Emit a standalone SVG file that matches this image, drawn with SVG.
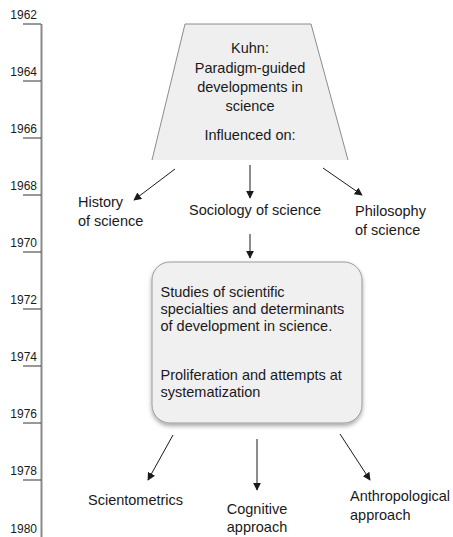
<svg xmlns="http://www.w3.org/2000/svg" width="453" height="537" viewBox="0 0 453 537">
  <style>
    text { font-family: "Liberation Sans", Arial, sans-serif; fill: #1a1a1a; }
    .yr { font-size: 12px; text-anchor: end; }
    .lbl { font-size: 14.5px; }
    .mid { text-anchor: middle; }
    .tick { stroke: #333; stroke-width: 1; }
    .conn { stroke: #1a1a1a; stroke-width: 1; fill: none; marker-end: url(#arrow); }
  </style>
  <defs>
    <marker id="arrow" viewBox="0 0 10 10" refX="9" refY="5" markerWidth="8" markerHeight="8" markerUnits="userSpaceOnUse" orient="auto">
      <path d="M0,0 L10,5 L0,10 z" fill="#1a1a1a"/>
    </marker>
    <filter id="shadow" x="-10%" y="-10%" width="120%" height="125%">
      <feDropShadow dx="0" dy="2.5" stdDeviation="2" flood-color="#000" flood-opacity="0.35"/>
    </filter>
  </defs>

  <!-- timeline axis -->
  <g id="timeline">
    <line x1="41.5" y1="24" x2="41.5" y2="537" stroke="#8a8a8a" stroke-width="2"/>
    <line class="tick" x1="23" y1="24" x2="41" y2="24"/>
    <line class="tick" x1="23" y1="81" x2="41" y2="81"/>
    <line class="tick" x1="23" y1="138" x2="41" y2="138"/>
    <line class="tick" x1="23" y1="195" x2="41" y2="195"/>
    <line class="tick" x1="23" y1="252" x2="41" y2="252"/>
    <line class="tick" x1="23" y1="309" x2="41" y2="309"/>
    <line class="tick" x1="23" y1="366" x2="41" y2="366"/>
    <line class="tick" x1="23" y1="423" x2="41" y2="423"/>
    <line class="tick" x1="23" y1="480" x2="41" y2="480"/>
    <text class="yr" x="37" y="19">1962</text>
    <text class="yr" x="37" y="76">1964</text>
    <text class="yr" x="37" y="133">1966</text>
    <text class="yr" x="37" y="190">1968</text>
    <text class="yr" x="37" y="247">1970</text>
    <text class="yr" x="37" y="304">1972</text>
    <text class="yr" x="37" y="361">1974</text>
    <text class="yr" x="37" y="418">1976</text>
    <text class="yr" x="37" y="475">1978</text>
    <text class="yr" x="37" y="533">1980</text>
  </g>

  <!-- Kuhn trapezoid -->
  <g id="kuhn">
    <polygon points="185,24 311,24 348,160 152,160" fill="#efefef"/>
    <polyline points="152,160 185,24 311,24 348,160" fill="none" stroke="#8c8c8c" stroke-width="1"/>
    <text class="lbl mid" x="250" y="53">Kuhn:</text>
    <text class="lbl mid" x="250" y="73">Paradigm-guided</text>
    <text class="lbl mid" x="250" y="92">developments in</text>
    <text class="lbl mid" x="250" y="111">science</text>
    <text class="lbl mid" x="250" y="140">Influenced on:</text>
  </g>

  <g id="history">
    <text class="lbl" x="78" y="207">History</text>
    <text class="lbl" x="78" y="226">of science</text>
  </g>
  <g id="sociology">
    <text class="lbl" x="189" y="215">Sociology of science</text>
  </g>
  <g id="philosophy">
    <text class="lbl" x="355" y="216">Philosophy</text>
    <text class="lbl" x="355" y="235">of science</text>
  </g>

  <!-- studies box -->
  <g id="studies">
    <rect x="152" y="262" width="210" height="161" rx="18" ry="18" fill="#f0f0f0" stroke="#9a9a9a" stroke-width="1" filter="url(#shadow)"/>
    <text class="lbl" x="160.5" y="297">Studies of scientific</text>
    <text class="lbl" x="160.5" y="314">specialties and determinants</text>
    <text class="lbl" x="160.5" y="331">of development  in science.</text>
    <text class="lbl" x="160.5" y="380">Proliferation and attempts at</text>
    <text class="lbl" x="160.5" y="397">systematization</text>
  </g>

  <g id="scientometrics">
    <text class="lbl" x="88" y="505">Scientometrics</text>
  </g>
  <g id="cognitive">
    <text class="lbl mid" x="257" y="514">Cognitive</text>
    <text class="lbl mid" x="257" y="532">approach</text>
  </g>
  <g id="anthropological">
    <text class="lbl" x="350" y="501">Anthropological</text>
    <text class="lbl" x="350" y="520">approach</text>
  </g>

  <!-- connectors -->
  <g id="connectors">
    <line class="conn" x1="175" y1="169" x2="134" y2="200"/>
    <line class="conn" x1="250" y1="165" x2="250" y2="198"/>
    <line class="conn" x1="323" y1="168" x2="362" y2="195"/>
    <line class="conn" x1="250" y1="234" x2="250" y2="258"/>
    <line class="conn" x1="173" y1="435" x2="148" y2="480"/>
    <line class="conn" x1="257" y1="439" x2="257" y2="490"/>
    <line class="conn" x1="340" y1="434" x2="370" y2="480"/>
  </g>
</svg>
